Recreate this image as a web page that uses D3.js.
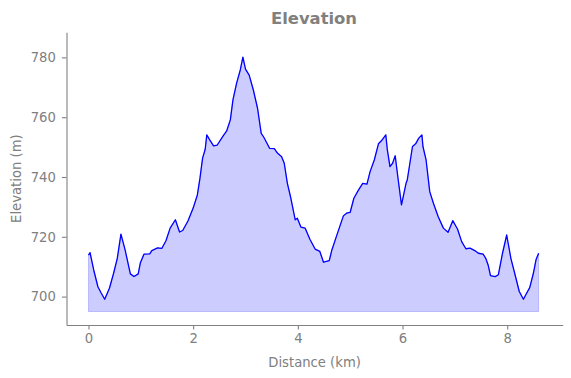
<!DOCTYPE html>
<html>
<head>
<meta charset="utf-8">
<script src="https://cdn.jsdelivr.net/npm/d3@7"></script>
<style>
  body { margin: 0; background: white; }
  text { font-family: "DejaVu Sans", sans-serif; }
</style>
</head>
<body>
<div id="chart"></div>
<script>
// profile: distance (km) and elevation (m)
const distance = [0, 0.03, 0.1, 0.18, 0.24, 0.31, 0.4, 0.48, 0.55, 0.62, 0.7, 0.8, 0.87, 0.95, 0.99,
    1.06, 1.17, 1.21, 1.32, 1.4, 1.48, 1.56, 1.66, 1.74, 1.8, 1.9, 2.0, 2.08, 2.13, 2.18, 2.23, 2.26,
    2.31, 2.39, 2.46, 2.57, 2.64, 2.71, 2.76, 2.83, 2.9, 2.95, 3.0, 3.07, 3.15, 3.23, 3.3, 3.35, 3.46,
    3.55, 3.61, 3.69, 3.74, 3.8, 3.86, 3.95, 3.99, 4.06, 4.14, 4.23, 4.33, 4.42, 4.49, 4.6, 4.65,
    4.74, 4.87, 4.93, 5.0, 5.07, 5.16, 5.24, 5.32, 5.38, 5.46, 5.54, 5.6, 5.68, 5.71, 5.76, 5.81,
    5.86, 5.91, 5.98, 6.07, 6.09, 6.14, 6.19, 6.25, 6.31, 6.37, 6.39, 6.45, 6.52, 6.59, 6.68, 6.78,
    6.87, 6.96, 7.05, 7.13, 7.21, 7.29, 7.38, 7.45, 7.54, 7.59, 7.64, 7.68, 7.77, 7.83, 7.91, 7.99,
    8.07, 8.15, 8.23, 8.31, 8.37, 8.43, 8.5, 8.55, 8.6];
const elevation = [713.9, 714.7, 708.9, 703.3, 701.3, 699.1, 702.8, 707.8, 712.8, 720.9, 715.6, 707.6,
    706.7, 707.6, 711.2, 714.2, 714.3, 715.4, 716.3, 716.1, 718.7, 722.9, 725.7, 721.6, 722.1, 725.3,
    729.6, 734.0, 739.6, 746.3, 749.3, 754.1, 752.6, 750.4, 750.7, 753.7, 755.4, 759.1, 765.8, 771.4,
    775.8, 780.1, 776.1, 774.1, 769.1, 763.0, 754.6, 753.3, 749.6, 749.5, 748.0, 746.8, 744.6, 737.9,
    733.4, 725.7, 726.2, 723.2, 722.9, 719.2, 715.9, 715.1, 711.5, 712.0, 715.6, 720.3, 727.0, 727.9,
    728.2, 732.9, 735.7, 737.9, 737.6, 741.8, 745.7, 751.1, 752.2, 754.1, 749.1, 743.5, 744.6, 747.1,
    740.1, 730.7, 738.1, 739.0, 744.6, 750.2, 751.1, 753.0, 754.1, 750.2, 745.7, 735.1, 731.2, 726.8,
    722.9, 721.5, 725.4, 722.6, 718.4, 716.0, 716.2, 715.4, 714.5, 714.2, 712.8, 710.3, 707.0, 706.7,
    707.3, 714.5, 720.6, 712.8, 707.3, 701.7, 699.1, 701.1, 703.0, 707.8, 712.3, 714.5];
const baseElevation = 695;
const xTickValues = [0, 2, 4, 6, 8];
const yTickValues = [700, 720, 740, 760, 780];

const width = 571;
const height = 378;
const margin = {t: 32.3, b: 53, l: 66.5, r: 8.3};
const grey = "#808080";

const data = distance.map((d, i) => ({x: d, y: elevation[i]}));

const svg = d3.select("#chart")
    .append("svg")
    .attr("width", width)
    .attr("height", height)
    .attr("viewBox", [0, 0, width, height]);

const xScale = d3.scaleLinear()
    .domain([-0.42, 9.06])
    .range([margin.l, width - margin.r]);

const yScale = d3.scaleLinear()
    .domain([690.5, 788.4])
    .range([height - margin.b, margin.t]);

// filled area under the profile
const area = d3.area()
    .x(d => xScale(d.x))
    .y0(yScale(baseElevation))
    .y1(d => yScale(d.y));
svg.append("path")
    .datum(data)
    .attr("d", area)
    .attr("fill", "rgba(0,0,255,0.2)")
    .attr("stroke", "rgba(0,0,255,0.2)")
    .attr("stroke-width", 1);

const line = d3.line()
    .x(d => xScale(d.x))
    .y(d => yScale(d.y));
svg.append("path")
    .datum(data)
    .attr("d", line)
    .attr("fill", "none")
    .attr("stroke", "blue")
    .attr("stroke-width", 1.3)
    .attr("stroke-linejoin", "round");

// axes
const xAxis = d3.axisBottom(xScale)
    .tickValues(xTickValues)
    .tickSize(4.6)
    .tickPadding(4.4)
    .tickSizeOuter(0);
const gx = svg.append("g")
    .attr("transform", `translate(0, ${height - margin.b})`)
    .call(xAxis);

const yAxis = d3.axisLeft(yScale)
    .tickValues(yTickValues)
    .tickSize(4.6)
    .tickPadding(6)
    .tickSizeOuter(0);
const gy = svg.append("g")
    .attr("transform", `translate(${margin.l}, 0)`)
    .call(yAxis);

[gx, gy].forEach(g => {
    g.select(".domain").attr("stroke", grey).attr("stroke-width", 1.1);
    g.selectAll(".tick line").attr("stroke", grey).attr("stroke-width", 1.1);
    g.selectAll(".tick text")
        .attr("fill", grey)
        .attr("font-size", "13.2px")
        .attr("font-family", "DejaVu Sans");
});

// labels
svg.append("text")
    .attr("x", 314)
    .attr("y", 24.3)
    .attr("text-anchor", "middle")
    .attr("font-size", "16.4px")
    .attr("font-weight", "bold")
    .attr("fill", grey)
    .text("Elevation");

svg.append("text")
    .attr("x", (margin.l + width - margin.r) / 2)
    .attr("y", 366.5)
    .attr("text-anchor", "middle")
    .attr("font-size", "13.2px")
    .attr("fill", grey)
    .text("Distance (km)");

svg.append("text")
    .attr("transform", `translate(21, ${(margin.t + height - margin.b) / 2}) rotate(-90)`)
    .attr("text-anchor", "middle")
    .attr("font-size", "13.2px")
    .attr("fill", grey)
    .text("Elevation (m)");
</script>
</body>
</html>
